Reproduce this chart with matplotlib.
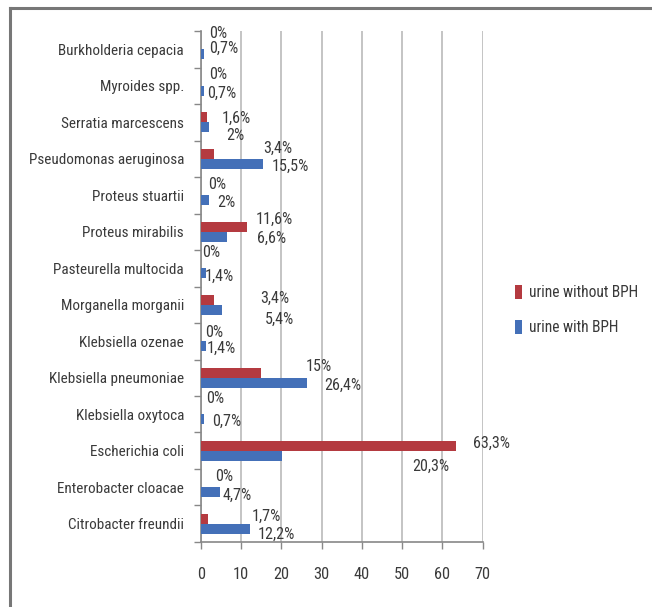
import matplotlib.pyplot as plt
import numpy as np
from matplotlib.lines import Line2D

# Data (percent)
categories = [
    "Burkholderia cepacia",
    "Myroides spp.",
    "Serratia marcescens",
    "Pseudomonas aeruginosa",
    "Proteus stuartii",
    "Proteus mirabilis",
    "Pasteurella multocida",
    "Morganella morganii",
    "Klebsiella ozenae",
    "Klebsiella pneumoniae",
    "Klebsiella oxytoca",
    "Escherichia coli",
    "Enterobacter cloacae",
    "Citrobacter freundii",
]
without_bph = [0, 0, 1.6, 3.4, 0, 11.6, 0, 3.4, 0, 15, 0, 63.3, 0, 1.7]
with_bph = [0.7, 0.7, 2, 15.5, 2, 6.6, 1.4, 5.4, 1.4, 26.4, 0.7, 20.3, 4.7, 12.2]
series_names = ["urine without BPH", "urine with BPH"]
xticks = [0, 10, 20, 30, 40, 50, 60, 70]

# Data-label placement (x in data units, y as offset from row centre)
red_lab_x = [2.06, 2.06, 5.29, 15.46, 1.81, 13.72, 0.32, 14.71, 1.07, 26.13, 1.32, 67.56, 3.55, 12.73]
red_lab_dy = [-0.445, -0.295, -0.116, -0.295, -0.308, -0.349, -0.418, -0.185, -0.253, -0.295, -0.418, -0.212, -0.281, -0.212]
blue_lab_x = [2.06, 1.56, 6.28, 17.69, 4.04, 13.97, 1.07, 15.96, 1.56, 30.60, 2.80, 52.44, 5.53, 14.22]
blue_lab_dy = [-0.034, 0.199, 0.349, 0.198, 0.212, 0.171, 0.212, 0.390, 0.185, 0.199, 0.185, 0.418, 0.212, 0.281]

RED = "#B43A40"
BLUE = "#4470B8"
TEXT = "#3A3A3A"
FS_CAT = 10.9
FS_LAB = 11.6
FS_TICK = 11.8
FS_LEG = 11.2

plt.rcParams["font.family"] = ["Roboto Condensed", "Roboto", "DejaVu Sans"]

fig = plt.figure(figsize=(6.52, 6.07), dpi=100)
ax = fig.add_axes([0.3078, 0.1071, 0.4325, 0.8418])

y = np.arange(len(categories))
bh = 0.274
ax.barh(y - bh / 2, without_bph, height=bh, color=RED, label=series_names[0], zorder=3)
ax.barh(y + bh / 2, with_bph, height=bh, color=BLUE, label=series_names[1], zorder=3)


def fmt(v):
    return f"{v:g}".replace(".", ",") + "%"


for i in range(len(categories)):
    ax.text(red_lab_x[i], y[i] + red_lab_dy[i], fmt(without_bph[i]),
            ha="left", va="center", color=TEXT, fontsize=FS_LAB, zorder=4)
    ax.text(blue_lab_x[i], y[i] + blue_lab_dy[i], fmt(with_bph[i]),
            ha="left", va="center", color=TEXT, fontsize=FS_LAB, zorder=4)

ax.set_xlim(0, 70)
ax.set_ylim(len(categories) - 0.5, -0.5)
ax.set_xticks(xticks)
ax.set_yticks(y)
ax.set_yticklabels(categories)
ax.set_yticks(np.arange(len(categories) + 1) - 0.5, minor=True)
ax.tick_params(axis="y", which="major", length=0, pad=12, colors=TEXT, labelsize=FS_CAT)
ax.tick_params(axis="y", which="minor", length=5, color="#888888", width=1)
ax.tick_params(axis="x", length=5, color="#888888", width=1, pad=13, labelsize=FS_TICK)
for lab in ax.get_xticklabels():
    lab.set_color(TEXT)

ax.grid(axis="x", color="#BFBFBF", linewidth=1.3, zorder=0)
for side in ["top", "right"]:
    ax.spines[side].set_visible(False)
for side in ["left", "bottom"]:
    ax.spines[side].set_color("#888888")
    ax.spines[side].set_linewidth(1.2)

fig.legend(
    loc="center left",
    bbox_to_anchor=(501 / 652, 1 - 310 / 607),
    frameon=False,
    handlelength=0.45,
    handleheight=1.0,
    handletextpad=0.45,
    labelspacing=1.25,
    fontsize=FS_LEG,
    labelcolor=TEXT,
)

# outer chart frame (top and left edges visible)
fig.add_artist(Line2D([10 / 652, 1], [1 - 8 / 607, 1 - 8 / 607], color="#777777", lw=2.2))
fig.add_artist(Line2D([10 / 652, 10 / 652], [0, 1 - 8 / 607], color="#777777", lw=2.2))

fig.savefig("out.png", dpi=100)
